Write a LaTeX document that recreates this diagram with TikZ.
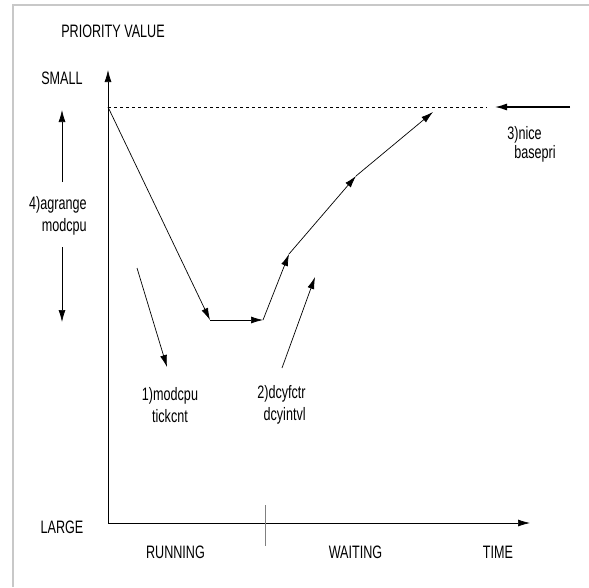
\documentclass[tikz,border=0pt]{standalone}
\usepackage{fontspec}
\setmainfont{Liberation Sans}[FakeStretch=0.70]
\usetikzlibrary{arrows.meta, positioning}
\definecolor{frameGray}{HTML}{C8C8C8}

\begin{document}
\begin{tikzpicture}[x=1pt, y=-1pt,
      >={Latex[length=12pt, width=7pt]}, line width=0.7pt,
      lbl/.style={inner sep=0pt, font=\fontsize{18}{22}\selectfont},
      note/.style={lbl, align=center}]
    \useasboundingbox (0,0) rectangle (589,587);
    % frame
    \draw[frameGray, line width=2pt] (12.5,587) -- (12.5,4.5) -- (589,4.5);
    % axes
    \coordinate (o)    at (108,523);
    \coordinate (ytop) at (108,70);
    \coordinate (xend) at (530,523);
    \coordinate (tkT)  at (265,505);
    \coordinate (tkB)  at (265,546);
    \draw[->] (o) -- (ytop);
    \draw[->] (o) -- (xend);
    \draw[gray] (tkT) -- (tkB);
    % axis labels
    \node[lbl] (prio)  at (113,31)    {PRIORITY VALUE};
    \node[lbl] (small) at (62,78)     {SMALL};
    \node[lbl] (large) at (62,527)    {LARGE};
    \node[lbl] (run)   at (175.5,552) {RUNNING};
    \node[lbl] (wait)  at (355.5,552) {WAITING};
    \node[lbl] (time)  at (498,552)   {TIME};
    % priority curve
    \coordinate (p0)   at (108,107);
    \coordinate (p1)   at (210,320);
    \coordinate (p2)   at (263,320);
    \coordinate (p3)   at (289,254);
    \coordinate (p4)   at (356,176);
    \coordinate (p5)   at (433,112);
    \coordinate (dend) at (487,107);
    \draw[dash pattern=on 3pt off 3pt] (p0) -- (dend);
    \foreach \a/\b in {p0/p1, p1/p2, p2/p3, p3/p4, p4/p5}
      \draw[->] (\a) -- (\b);
    % 4) agrange
    \node[lbl, align=right, anchor=east] (agr) at (87,216) {4)agrange\\modcpu};
    \coordinate (a4s) at (62,182); \coordinate (a4t) at (62,110);
    \coordinate (a4u) at (62,247); \coordinate (a4b) at (62,322);
    \draw[->] (a4s) -- (a4t);
    \draw[->] (a4u) -- (a4b);
    % 1) modcpu
    \node[note] (mod) at (170,405) {1)modcpu\\tickcnt};
    \coordinate (a1s) at (137,268); \coordinate (a1t) at (167,367);
    \draw[->] (a1s) -- (a1t);
    % 2) dcyfctr
    \node[lbl, align=right, anchor=east] (dcy) at (306,405) {2)dcyfctr\\dcyintvl};
    \coordinate (a2s) at (282,368); \coordinate (a2t) at (315,277);
    \draw[->] (a2s) -- (a2t);
    % 3) nice
    \node[lbl, align=left, anchor=west, font=\fontsize{18}{19}\selectfont] (nice) at (507,144)
      {3)nice\\\hspace*{7pt}basepri};
    \coordinate (a3s) at (570,107); \coordinate (a3t) at (495,107);
    \draw[->, line width=1.3pt] (a3s) -- (a3t);
  \end{tikzpicture}
\end{document}
